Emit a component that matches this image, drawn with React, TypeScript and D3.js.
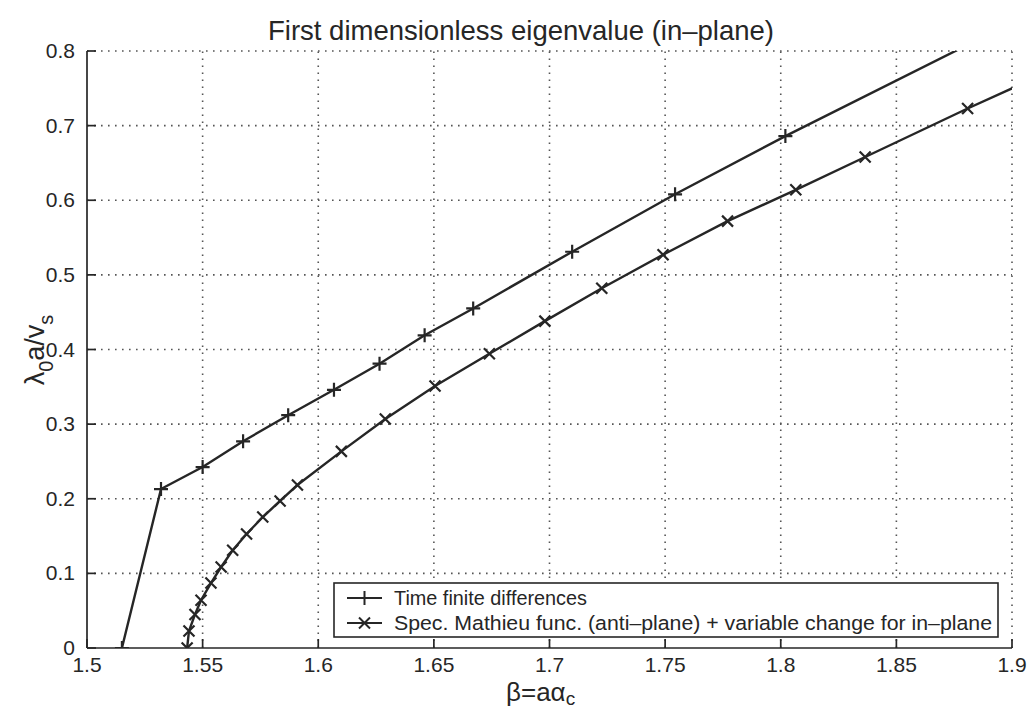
import { useEffect, useRef } from "react";
import * as d3 from "d3";

// Time finite differences ('+')
const fdBeta = [1.5151, 1.532, 1.55, 1.5675, 1.587, 1.6068, 1.6265, 1.646, 1.667, 1.7098, 1.7543, 1.802, 1.9];
const fdLambda = [0, 0.213, 0.2425, 0.277, 0.312, 0.346, 0.381, 0.419, 0.455, 0.531, 0.608, 0.686, 0.838];

// Spec. Mathieu func. ('x')
const smBeta = [
  1.5433, 1.5441, 1.5467, 1.5493, 1.5536, 1.558, 1.563, 1.569, 1.576, 1.5835, 1.591, 1.61, 1.629, 1.6505,
  1.674, 1.698, 1.7226, 1.7491, 1.777, 1.8065, 1.8365, 1.8808, 1.925,
];
const smLambda = [
  0, 0.0228, 0.045, 0.064, 0.087, 0.1085, 0.131, 0.1527, 0.1755, 0.197, 0.2184, 0.2635, 0.3068, 0.351,
  0.3943, 0.438, 0.482, 0.527, 0.572, 0.614, 0.658, 0.723, 0.785,
];

const xTicks = [1.5, 1.55, 1.6, 1.65, 1.7, 1.75, 1.8, 1.85, 1.9];
const yTicks = [0, 0.1, 0.2, 0.3, 0.4, 0.5, 0.6, 0.7, 0.8];
const legendLabels = [
  "Time finite differences",
  "Spec. Mathieu func. (anti\u2013plane) + variable change for in\u2013plane",
];
const legendWidths = [193, 598];

const FONT = "'Liberation Sans', Arial, Helvetica, sans-serif";
const INK = "#262626";

export default function App() {
  const svgRef = useRef<SVGSVGElement | null>(null);

  useEffect(() => {
    const width = 1032;
    const height = 709;
    const x = d3.scaleLinear().domain([1.5, 1.9]).range([87, 1012]);
    const y = d3.scaleLinear().domain([0, 0.8]).range([648, 51]);

    const svg = d3.select(svgRef.current).attr("width", width).attr("height", height);
    svg.selectAll("*").remove();

    svg.append("rect").attr("width", width).attr("height", height).attr("fill", "#fff");

    svg
      .append("defs")
      .append("clipPath")
      .attr("id", "plotClip")
      .append("rect")
      .attr("x", x(1.5))
      .attr("y", y(0.8))
      .attr("width", x(1.9) - x(1.5))
      .attr("height", y(0) - y(0.8));

    // dotted grid
    const grid = svg.append("g").attr("stroke", "#555").attr("stroke-width", 1.6).attr("stroke-dasharray", "1.6,5.4");
    xTicks.slice(1).forEach((t) => {
      grid.append("line").attr("x1", x(t)).attr("x2", x(t)).attr("y1", y(0)).attr("y2", y(0.8));
    });
    yTicks.slice(1).forEach((t) => {
      grid.append("line").attr("x1", x(1.5)).attr("x2", x(1.9)).attr("y1", y(t)).attr("y2", y(t));
    });

    // axes (box off)
    const axes = svg.append("g").attr("stroke", INK).attr("stroke-width", 1.7);
    axes.append("line").attr("x1", x(1.5)).attr("x2", x(1.9)).attr("y1", y(0)).attr("y2", y(0));
    axes.append("line").attr("x1", x(1.5)).attr("x2", x(1.5)).attr("y1", y(0)).attr("y2", y(0.8));
    xTicks.forEach((t) => {
      axes.append("line").attr("x1", x(t)).attr("x2", x(t)).attr("y1", y(0)).attr("y2", y(0) - 9);
    });
    yTicks.forEach((t) => {
      axes.append("line").attr("x1", x(1.5)).attr("x2", x(1.5) + 9).attr("y1", y(t)).attr("y2", y(t));
    });

    const labels = svg.append("g").attr("font-family", FONT).attr("fill", INK).attr("font-size", 21);
    xTicks.forEach((t) => {
      labels.append("text").attr("x", x(t)).attr("y", y(0) + 24).attr("text-anchor", "middle").text(String(t));
    });
    yTicks.forEach((t) => {
      labels.append("text").attr("x", x(1.5) - 12).attr("y", y(t) + 7).attr("text-anchor", "end").text(String(t));
    });

    // series
    const plot = svg.append("g").attr("clip-path", "url(#plotClip)");
    const line = d3
      .line<[number, number]>()
      .x((d) => x(d[0]))
      .y((d) => y(d[1]));
    const plus = "M-7,0H7M0,-7V7";
    const cross = "M-5.5,-5.5L5.5,5.5M-5.5,5.5L5.5,-5.5";

    const series = [
      { pts: fdBeta.map((b, i) => [b, fdLambda[i]] as [number, number]), marker: plus },
      { pts: smBeta.map((b, i) => [b, smLambda[i]] as [number, number]), marker: cross },
    ];
    series.forEach((s) => {
      plot.append("path").attr("d", line(s.pts)).attr("fill", "none").attr("stroke", INK).attr("stroke-width", 2.4);
      plot
        .selectAll(null)
        .data(s.pts)
        .enter()
        .append("path")
        .attr("d", s.marker)
        .attr("transform", (d) => `translate(${x(d[0])},${y(d[1])})`)
        .attr("fill", "none")
        .attr("stroke", INK)
        .attr("stroke-width", 2.2);
    });

    // legend
    const lg = svg.append("g");
    lg.append("rect")
      .attr("x", 334)
      .attr("y", 583)
      .attr("width", 664)
      .attr("height", 54)
      .attr("fill", "#fff")
      .attr("stroke", INK)
      .attr("stroke-width", 1.6);
    legendLabels.forEach((lab, i) => {
      const cy = 598 + i * 25;
      lg.append("line").attr("x1", 347).attr("x2", 382).attr("y1", cy).attr("y2", cy).attr("stroke", INK).attr("stroke-width", 2.2);
      lg.append("path")
        .attr("d", series[i].marker)
        .attr("transform", `translate(364.5,${cy})`)
        .attr("fill", "none")
        .attr("stroke", INK)
        .attr("stroke-width", 2);
      lg.append("text")
        .attr("x", 394)
        .attr("y", cy + 7)
        .attr("font-family", FONT)
        .attr("font-size", 20.5)
        .attr("fill", INK)
        .attr("textLength", legendWidths[i])
        .attr("lengthAdjust", "spacingAndGlyphs")
        .text(lab);
    });

    // title
    svg
      .append("text")
      .attr("x", 521)
      .attr("y", 40)
      .attr("text-anchor", "middle")
      .attr("font-family", FONT)
      .attr("font-size", 28)
      .attr("fill", INK)
      .attr("textLength", 506)
      .attr("lengthAdjust", "spacingAndGlyphs")
      .text("First dimensionless eigenvalue (in\u2013plane)");

    // x label: β=aα_c
    const xl = svg.append("text").attr("x", 506).attr("y", 701).attr("font-family", FONT).attr("font-size", 26).attr("fill", INK);
    xl.append("tspan").text("\u03b2=a\u03b1");
    xl.append("tspan").attr("dy", 4).attr("font-size", 19).text("c");

    // y label: λ_0 a/v_s
    const yl = svg
      .append("text")
      .attr("transform", "translate(44,350) rotate(-90)")
      .attr("text-anchor", "middle")
      .attr("font-family", FONT)
      .attr("font-size", 27)
      .attr("fill", INK);
    yl.append("tspan").text("\u03bb");
    yl.append("tspan").attr("dy", 9).attr("font-size", 20).text("0");
    yl.append("tspan").attr("dy", -9).text("a/v");
    yl.append("tspan").attr("dy", 9).attr("font-size", 20).text("s");

    return () => {
      svg.selectAll("*").remove();
    };
  }, []);

  return (
    <div style={{ position: "absolute", left: 0, top: 0 }}>
      <svg ref={svgRef} />
    </div>
  );
}
